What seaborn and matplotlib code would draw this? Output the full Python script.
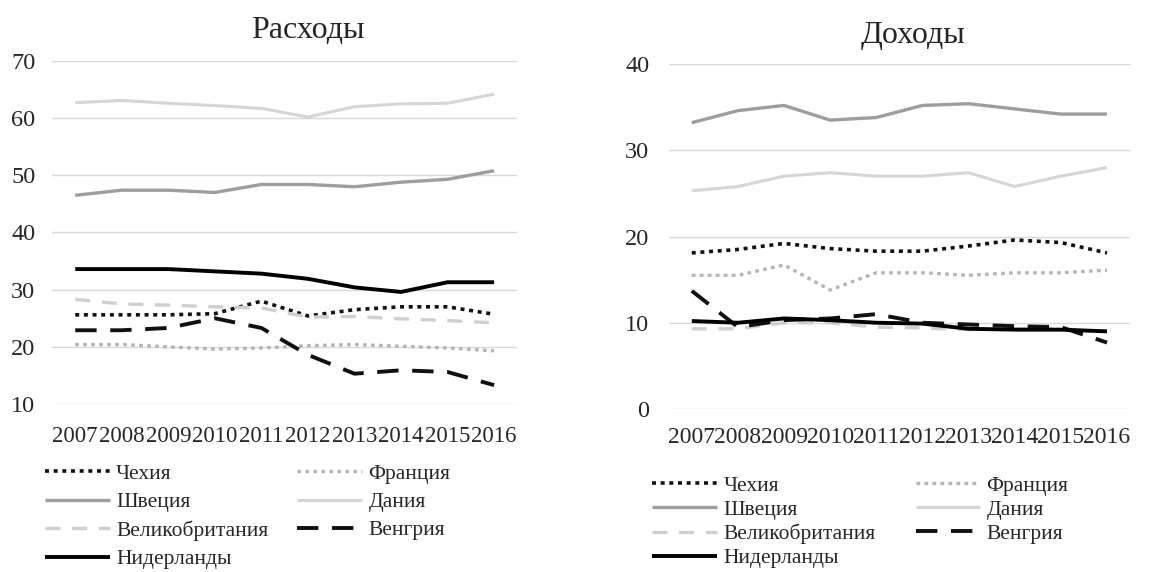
import matplotlib
matplotlib.use("Agg")
import matplotlib.pyplot as plt
import seaborn as sns
import pandas as pd

years = [2007, 2008, 2009, 2010, 2011, 2012, 2013, 2014, 2015, 2016]
countries = ["Чехия", "Франция", "Швеция", "Дания", "Великобритания", "Венгрия", "Нидерланды"]

# Расходы
exp_cz = [25.6, 25.6, 25.6, 25.8, 28.0, 25.4, 26.5, 27.0, 27.0, 25.7]
exp_fr = [20.4, 20.4, 20.0, 19.6, 19.8, 20.2, 20.4, 20.1, 19.8, 19.3]
exp_se = [46.5, 47.4, 47.4, 47.0, 48.4, 48.4, 48.0, 48.8, 49.3, 50.8]
exp_dk = [62.7, 63.1, 62.6, 62.2, 61.7, 60.2, 62.0, 62.5, 62.6, 64.2]
exp_uk = [28.3, 27.5, 27.3, 27.0, 26.8, 25.2, 25.3, 24.9, 24.6, 24.2]
exp_hu = [22.9, 22.9, 23.3, 25.0, 23.3, 18.6, 15.3, 15.9, 15.6, 13.3]
exp_nl = [33.6, 33.6, 33.6, 33.2, 32.8, 31.9, 30.4, 29.6, 31.3, 31.3]

# Доходы
inc_cz = [18.1, 18.5, 19.2, 18.6, 18.3, 18.3, 18.9, 19.6, 19.3, 18.1]
inc_fr = [15.5, 15.5, 16.7, 13.8, 15.8, 15.8, 15.5, 15.8, 15.8, 16.1]
inc_se = [33.2, 34.6, 35.2, 33.5, 33.8, 35.2, 35.4, 34.8, 34.2, 34.2]
inc_dk = [25.3, 25.8, 27.0, 27.4, 27.0, 27.0, 27.4, 25.8, 27.0, 28.0]
inc_uk = [9.3, 9.3, 10.0, 10.0, 9.5, 9.4, 9.2, 9.3, 9.3, 9.0]
inc_hu = [13.7, 9.5, 10.3, 10.5, 11.0, 10.0, 9.8, 9.6, 9.5, 7.7]
inc_nl = [10.2, 10.0, 10.5, 10.3, 10.0, 9.9, 9.3, 9.2, 9.2, 9.0]

exp_vals = [exp_cz, exp_fr, exp_se, exp_dk, exp_uk, exp_hu, exp_nl]
inc_vals = [inc_cz, inc_fr, inc_se, inc_dk, inc_uk, inc_hu, inc_nl]

sns.set_theme(style="white")
plt.rcParams["font.family"] = ["Liberation Serif", "DejaVu Serif"]

styles = {
    "Чехия":          dict(color="#111111", lw=2.6, dashes=(1.1, 1.3)),
    "Франция":        dict(color="#b5b5b5", lw=2.4, dashes=(1.1, 1.3)),
    "Швеция":         dict(color="#9e9e9e", lw=2.4, dashes=None),
    "Дания":          dict(color="#d6d6d6", lw=2.2, dashes=None),
    "Великобритания": dict(color="#cfcfcf", lw=2.4, dashes=(4.5, 3.5)),
    "Венгрия":        dict(color="#111111", lw=2.8, dashes=(5.5, 3.5)),
    "Нидерланды":     dict(color="#000000", lw=2.8, dashes=None),
}

fig = plt.figure(figsize=(11.65, 5.72), dpi=100)
ax1 = fig.add_axes([0.0446, 0.2937, 0.3995, 0.5997])
ax2 = fig.add_axes([0.574, 0.285, 0.396, 0.603])

def draw(ax, vals, ylim, yticks, xpad, ypad, xsize):
    handles = {}
    for name, v in zip(countries, vals):
        df = pd.DataFrame({"year": years, "value": v})
        st = styles[name]
        sns.lineplot(data=df, x="year", y="value", ax=ax, color=st["color"],
                     linewidth=st["lw"], label=name, legend=False)
        ln = ax.get_lines()[-1]
        if st["dashes"] is not None:
            ln.set_dashes(st["dashes"])
        ln.set_solid_capstyle("butt")
        handles[name] = ln
    ax.set_xlim(2006.5, 2016.5)
    ax.set_ylim(*ylim)
    ax.set_yticks(yticks)
    ax.set_xticks(years)
    ax.set_xticklabels([str(y) for y in years])
    ax.grid(axis="y", color="#d9d9d9", linewidth=1.0)
    ax.set_axisbelow(True)
    for s in ax.spines.values():
        s.set_visible(False)
    ax.tick_params(axis="x", length=0, pad=xpad, labelsize=xsize, labelcolor="#262626")
    ax.tick_params(axis="y", length=0, pad=ypad, labelsize=17.5, labelcolor="#262626")
    ax.set_xlabel("")
    ax.set_ylabel("")
    return handles

h1 = draw(ax1, exp_vals, (10, 70), [10, 20, 30, 40, 50, 60, 70], 16, 12, 16.5)
h2 = draw(ax2, inc_vals, (0, 40), [0, 10, 20, 30, 40], 13, 14, 17)

fig.text(0.2645, 0.946, "Расходы", ha="center", va="center", fontsize=23, color="#262626")
fig.text(0.784, 0.938, "Доходы", ha="center", va="center", fontsize=23, color="#262626")

order = ["Чехия", "Швеция", "Великобритания", "Нидерланды", "Франция", "Дания", "Венгрия"]

def make_legend(h, x0, y0, colsp, labsp):
    leg = fig.legend([h[n] for n in order], order, loc="upper left",
                     bbox_to_anchor=(x0, y0), ncol=2, frameon=False,
                     fontsize=15.5, handlelength=3.0, handletextpad=0.3,
                     columnspacing=colsp, labelspacing=labsp, borderpad=0,
                     borderaxespad=0)
    for t in leg.get_texts():
        t.set_color("#262626")
    return leg

make_legend(h1, 0.0386, 0.189, 1.35, 0.38)
make_legend(h2, 0.560, 0.168, 1.85, 0.18)

fig.savefig("out.png", dpi=100)
